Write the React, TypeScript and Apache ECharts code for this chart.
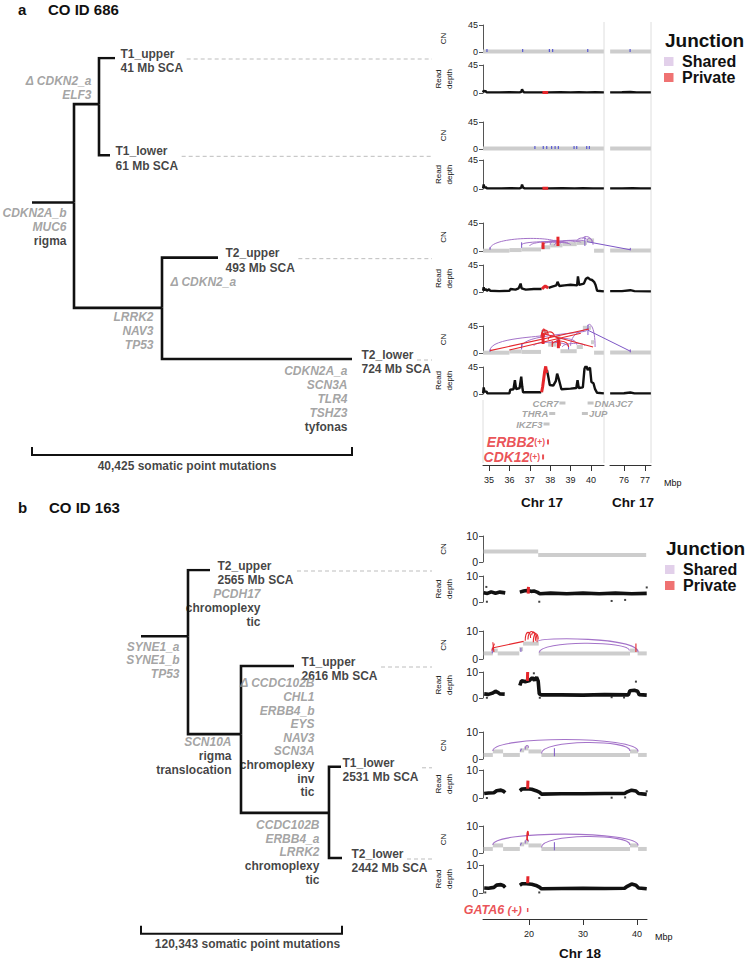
import React, { useEffect, useRef } from 'react';
import * as echarts from 'echarts';

const FONT = '"Liberation Sans", Arial, Helvetica, sans-serif';
const GRAY_TXT = '#8c8c8c';
const PURPLE = '#a473c9';
const PURPLE_DARK = '#7d56c6';
const RED = '#e5262b';
const CN_GRAY = '#cdcdcd';
const BLUE = '#5a5ad2';
const INK = '#111111';

/* ===================== panel a : CO ID 686 ===================== */
const aTitle = 'CO ID 686';
const aTotalMutations = 40425;
// [node, parent, position (somatic mutations), row]
const aTreeNodes: any[] = [
  ['rootA', null, 5306, 1.44],
  ['nT1', 'rootA', 8464, 0.46],
  ['T1_upper', 'nT1', 10485, 0],
  ['T1_lower', 'nT1', 9854, 0.97],
  ['nT2', 'rootA', 16423, 2.49],
  ['T2_upper', 'nT2', 23497, 1.99],
  ['T2_lower', 'nT2', 40425, 3],
];
const aLeafSCA = [['T1_upper', '41 Mb SCA'], ['T1_lower', '61 Mb SCA'], ['T2_upper', '493 Mb SCA'], ['T2_lower', '724 Mb SCA']];
// [node, genes (grey italic), events (black)]
const aBranchNotes: any[] = [
  ['nT1', ['Δ CDKN2_a', 'ELF3'], []],
  ['rootA', ['CDKN2A_b', 'MUC6'], ['rigma']],
  ['T2_upper', ['Δ CDKN2_a'], []],
  ['nT2', ['LRRK2', 'NAV3', 'TP53'], []],
  ['T2_lower', ['CDKN2A_a', 'SCN3A', 'TLR4', 'TSHZ3'], ['tyfonas']],
];

// chr17 copy number segments [start Mb, end Mb, CN]
const aCN_T1upper = [[34.71, 40.63, 1], [75.34, 77.28, 1]];
const aCN_T1lower = [[34.71, 40.63, 1], [75.34, 77.28, 1]];
const aCN_T2upper = [[34.71, 36.0, 0.5], [36.0, 36.6, 1.5], [36.6, 37.55, 2.5], [37.55, 38.0, 6], [38.0, 38.6, 9], [38.6, 39.3, 11], [39.3, 39.8, 13], [39.8, 40.15, 17], [40.15, 40.63, 0.5], [75.34, 77.28, 1]];
const aCN_T2lower = [[34.71, 36.0, 0.5], [36.0, 36.6, 2.5], [36.6, 37.55, 1.8], [37.55, 37.9, 35], [37.9, 38.3, 14], [38.3, 38.5, 25], [38.5, 39.3, 3], [39.3, 39.6, 10], [39.6, 40.0, 42], [40.0, 40.15, 18], [40.15, 40.63, 0.5], [75.34, 77.28, 1]];
// junction breakpoint ticks (Mb)
const aMarks_T1upper = [34.9, 36.65, 37.96, 38.12, 39.84, 76.29];
const aMarks_T1lower = [37.25, 37.66, 37.83, 38.07, 38.24, 38.4, 39.17, 39.3, 39.79, 39.92];
// shared junction arcs [x1, cn1, x2, cn2, peak cn]
const aArcsShared_T2upper = [
  [35.05, 3, 38.4, 12, 20], [36.6, 10, 38.9, 12, 15], [37.0, 8, 39.5, 14, 16], [37.65, 8, 38.35, 15, 16],
  [37.7, 12, 39.0, 10, 14], [38.0, 10, 38.4, 14, 17], [38.2, 9, 39.7, 16, 17], [38.5, 12, 39.2, 14, 17],
  [39.3, 15, 39.8, 18, 21], [39.6, 20, 40.05, 14, 23], [39.8, 16, 40.1, 10, 20],
];
const aLinesShared_T2upper = [[35.05, 2, 35.05, 6], [36.6, 5, 36.6, 14], [39.7, 8, 39.7, 22], [39.8, 15, 76.3, 2], [76.3, 1, 76.3, 5]];
const aBarsPrivate_T2upper = [[37.65, 3, 37.65, 14], [38.38, 8, 38.38, 23]];
const aArcsShared_T2lower = [
  [35.05, 4, 37.7, 30, 24], [36.6, 10, 39.8, 38, 30], [38.3, 20, 39.3, 14, 24], [39.0, 12, 39.85, 42, 35],
  [39.85, 45, 40.2, 10, 45], [37.2, 12, 38.9, 10, 18], [38.6, 10, 39.7, 12, 16],
];
const aLinesShared_T2lower = [[35.05, 2, 35.05, 6], [36.6, 6, 36.6, 16], [38.9, 6, 38.9, 12], [39.85, 30, 39.85, 47], [39.85, 38, 76.3, 3], [76.3, 1, 76.3, 6]];
const aArcsPrivate_T2lower = [[37.55, 25, 37.9, 30, 38], [37.65, 20, 38.2, 28, 35], [37.9, 22, 38.5, 12, 28], [38.1, 14, 38.9, 10, 20], [37.6, 28, 37.75, 33, 40]];
const aLinesPrivate_T2lower = [[35.05, 4, 39.9, 40], [36.0, 5, 39.5, 33], [37.6, 33, 40.1, 10], [38.1, 10, 38.1, 20]];
const aBarsPrivate_T2lower = [[37.65, 15, 37.65, 33], [38.4, 8, 38.4, 22]];
// read depth [Mb, depth]; null = gap
const aRD_T1upper: any[] = [[34.71, 1], [34.74, 4], [34.78, 2], [34.82, 3.5], [34.88, 1], [35.5, 1], [36.0, 1.2], [36.5, 1], [36.58, 2], [36.62, 6], [36.66, 3], [36.72, 1], [37.2, 1], [37.6, 1], [37.9, 1], [38.5, 1.2], [39.0, 1], [39.4, 1.4], [39.8, 1], [40.2, 1.2], [40.63, 1],
  [75.34, 1], [75.9, 1.2], [76.3, 1.6], [76.6, 1], [77.28, 1]];
const aRDprivate_T1upper = [[37.62, 1], [37.9, 1]];
const aRD_T1lower: any[] = [[34.71, 1], [34.74, 7], [34.78, 2], [34.84, 3], [34.9, 1], [35.6, 1], [36.1, 1.2], [36.5, 1], [36.58, 2], [36.62, 7], [36.67, 2], [36.75, 1], [37.3, 1], [37.6, 1], [37.9, 1], [38.6, 1.2], [39.2, 1], [39.6, 1.3], [40.1, 1], [40.63, 1],
  [75.34, 1], [75.9, 1], [76.4, 1.4], [76.8, 1], [77.28, 1]];
const aRDprivate_T1lower = [[37.62, 1], [37.9, 1]];
const aRD_T2upper: any[] = [[34.71, 2], [34.74, 8], [34.77, 3], [34.83, 5], [34.9, 2], [35.0, 4.5], [35.06, 2], [35.5, 1.5], [36.0, 2], [36.05, 5], [36.3, 4], [36.45, 6], [36.55, 14], [36.6, 6], [36.8, 4], [37.2, 5], [37.58, 5], null,
  [37.92, 7], [38.1, 9], [38.3, 11], [38.36, 17], [38.45, 10], [38.7, 11], [39.0, 12], [39.32, 11], [39.36, 26], [39.42, 12], [39.65, 14], [39.75, 22], [39.85, 24], [39.95, 21], [40.05, 20], [40.15, 17], [40.22, 12], [40.3, 2], [40.63, 1],
  [75.34, 1.5], [75.9, 1.5], [76.3, 3], [76.5, 1.5], [77.28, 1]];
const aRDprivate_T2upper = [[37.6, 5], [37.68, 8], [37.76, 10], [37.84, 8], [37.9, 7]];
const aRD_T2lower: any[] = [[34.71, 1], [34.74, 11], [34.78, 4], [34.88, 4], [34.92, 1], [35.6, 1], [36.0, 1], [36.04, 7], [36.2, 8], [36.27, 23], [36.33, 8], [36.5, 10], [36.58, 29], [36.63, 12], [36.67, 3], [37.1, 3], [37.56, 3], null,
  [37.84, 40], [37.9, 30], [37.98, 15], [38.15, 14], [38.28, 22], [38.34, 34], [38.42, 25], [38.55, 8], [39.0, 9], [39.28, 10], [39.34, 23], [39.4, 10], [39.6, 11], [39.68, 42], [39.76, 48], [39.84, 40], [39.95, 44], [40.02, 20], [40.12, 18], [40.2, 8], [40.3, 2], [40.63, 1],
  [75.34, 1], [76.0, 1.2], [76.3, 2.5], [76.5, 1], [77.28, 1]];
const aRDprivate_T2lower = [[37.58, 3], [37.63, 12], [37.68, 25], [37.73, 38], [37.78, 46], [37.83, 35]];
// chr17 genes
const aGeneNames = ['CCR7', 'THRA', 'IKZF3', 'ERBB2', 'CDK12', 'JUP', 'DNAJC7'];
const aGenePos = [38.6, 38.1, 37.82, 37.89, 37.65, 39.7, 39.98];
const aGeneRow = [0, 1, 2, 3.71, 5.14, 1, 0];
const aGeneAmplified = [false, false, false, true, true, false, false];
const aTicksLeft = [35, 36, 37, 38, 39, 40];
const aTicksRight = [76, 77];

/* ===================== panel b : CO ID 163 ===================== */
const bTitle = 'CO ID 163';
const bTotalMutations = 120343;
const bTreeNodes: any[] = [
  ['rootB', null, 28140, 0.69],
  ['T2_upper', 'rootB', 41311, 0],
  ['n2', 'rootB', 59872, 1.71],
  ['T1_upper', 'n2', 91604, 1],
  ['n3', 'n2', 112547, 2.53],
  ['T1_lower', 'n3', 119744, 2.05],
  ['T2_lower', 'n3', 120343, 3],
];
const bLeafSCA = [['T2_upper', '2565 Mb SCA'], ['T1_upper', '2616 Mb SCA'], ['T1_lower', '2531 Mb SCA'], ['T2_lower', '2442 Mb SCA']];
const bBranchNotes: any[] = [
  ['rootB', ['SYNE1_a', 'SYNE1_b', 'TP53'], []],
  ['T2_upper', ['PCDH17'], ['chromoplexy', 'tic']],
  ['n2', ['SCN10A'], ['rigma', 'translocation']],
  ['T1_upper', ['Δ CCDC102B', 'CHL1', 'ERBB4_b', 'EYS', 'NAV3', 'SCN3A'], ['chromoplexy', 'inv', 'tic']],
  ['n3', ['CCDC102B', 'ERBB4_a', 'LRRK2'], ['chromoplexy', 'tic']],
];
const bCN_T2upper = [[11.6, 21.7, 4], [21.7, 41.7, 2.7]];
const bCN_T1upper = [[11.6, 13.3, 2], [13.3, 14.2, 3], [14.2, 18.2, 2], [18.2, 18.9, 3.5], [18.9, 21.8, 5.5], [21.8, 38.7, 2], [38.7, 40.1, 3], [40.1, 41.8, 2]];
const bCN_T1lower = [[11.6, 13.3, 1.5], [13.3, 15.2, 2.8], [15.2, 18.3, 1.5], [18.3, 19.1, 3.2], [19.1, 19.9, 3.9], [19.9, 22.3, 2.8], [22.3, 38.7, 1.5], [38.7, 40.2, 2.8], [40.2, 41.8, 1.5]];
const bCN_T2lower = [[11.6, 13.3, 1.5], [13.3, 15.2, 2.8], [15.2, 18.3, 1.5], [18.3, 19.1, 3.2], [19.1, 19.9, 3.9], [19.9, 22.3, 2.8], [22.3, 38.7, 1.5], [38.7, 40.2, 2.8], [40.2, 41.8, 1.5]];
const bArcsShared_T1upper = [[21.7, 6.3, 40.2, 2.4, 7.0], [21.9, 2.3, 38.6, 3.0, 5.6]];
const bLinesShared_T1upper = [[13.2, 2, 13.2, 4], [18.5, 2.5, 18.5, 4]];
const bArcsPrivate_T1upper = [[19.3, 6.5, 20.3, 7.5, 9.5], [19.8, 7.0, 21.2, 6.5, 9.8], [20.5, 8.5, 21.5, 6.0, 9.5], [20.8, 6.0, 21.7, 7.0, 9.0]];
const bLinesPrivate_T1upper = [[13.1, 3, 13.6, 5.5], [13.3, 6, 13.5, 2.5], [13.4, 4, 19.0, 6.3], [39.8, 2.5, 39.8, 5.5]];
const bArcsShared_T1lower = [[13.3, 3, 40.2, 2.8, 7.2], [22.3, 2, 38.7, 3, 6.1], [19.3, 3.5, 19.9, 4.2, 5]];
const bLinesShared_T1lower = [[24.7, 1, 24.7, 4], [18.4, 2.8, 18.6, 3.8]];
const bArcsShared_T2lower = [[13.3, 3, 40.2, 2.8, 7.0], [22.3, 2, 38.7, 3, 6.1], [19.3, 3.5, 19.9, 4.2, 5]];
const bLinesShared_T2lower = [[24.7, 1, 24.7, 4], [18.4, 2.8, 18.6, 3.8]];
const bArcsPrivate_T2lower = [[19.6, 5, 19.9, 6.5, 8]];
const bLinesPrivate_T2lower = [[19.7, 4.8, 19.7, 7.6], [19.6, 5.2, 19.8, 4.5]];
const bRD_T2upper: any[] = [[11.6, 3.6], [12.3, 3.3], [13.0, 3.9], [13.8, 3.4], [14.6, 3.8], [15.6, 3.5], null, [18.3, 3.8], [19.0, 4.2], [19.6, 4.4], [20.4, 4.1], [21.0, 4.2], [21.6, 3.7], [22.0, 3.2], [24.0, 3.4], [27.0, 3.2], [30.0, 3.4], [33.0, 3.2], [36.0, 3.4], [39.0, 3.2], [41.8, 3.3]];
const bRDprivate_T2upper = [[19.85, 3.2], [19.9, 5.8]];
const bRDoutliers_T2upper = [[12.2, 0.1], [12.1, 5.8], [21.9, 0.1], [35.3, 0.4], [37.8, 0.8], [41.8, 5.6]];
const bRD_T1upper: any[] = [[11.7, 1.6], [12.5, 1.4], [13.3, 1.9], [13.8, 2.6], [14.2, 2.2], [14.6, 1.6], [15.5, 1.5], null, [18.3, 4.8], [18.6, 6.6], [19.3, 6.3], [20.0, 6.6], [20.6, 7.8], [21.0, 6.8], [21.4, 8.0], [21.7, 6.5], [21.9, 1.6], [22.3, 1.2], [26.0, 1.2], [30.0, 1.1], [34.0, 1.3], [38.4, 1.2], [38.7, 2.8], [39.5, 3.0], [40.1, 2.6], [40.4, 1.3], [41.8, 1.1]];
const bRDprivate_T1upper = [[19.7, 6.6], [19.75, 10]];
const bRDoutliers_T1upper = [[12.2, 0.1], [22.0, 0.1], [35.3, 0.3], [37.6, 0.2], [39.8, 6.3], [20.9, 9.5]];
const bRD_T1lower: any[] = [[11.7, 1.6], [12.5, 1.8], [13.5, 1.9], [14.0, 2.6], [14.8, 2.8], [15.3, 2.4], [15.6, 1.9], null, [18.3, 2.6], [18.7, 3.2], [19.5, 3.3], [20.5, 3.1], [21.3, 2.6], [22.0, 2.0], [22.3, 1.4], [26.0, 1.5], [30.0, 1.5], [34.0, 1.6], [37.7, 1.6], [38.2, 2.2], [39.0, 2.8], [39.8, 2.5], [40.3, 1.6], [41.8, 1.3]];
const bRDprivate_T1lower = [[19.75, 3.3], [19.8, 6.2]];
const bRDoutliers_T1lower = [[12.2, 0], [21.9, 0], [35.3, 0.1], [37.8, 0.2], [41.8, 2.4]];
const bRD_T2lower: any[] = [[11.7, 1.8], [12.5, 1.7], [13.5, 2.0], [14.0, 2.8], [14.8, 3.0], [15.3, 2.6], [15.6, 2.0], null, [18.3, 2.8], [18.7, 3.3], [19.5, 3.3], [20.5, 3.1], [21.3, 2.7], [22.0, 2.0], [22.3, 1.5], [26.0, 1.6], [30.0, 1.7], [34.0, 1.6], [37.7, 1.7], [38.2, 2.4], [39.0, 3.2], [39.8, 2.8], [40.3, 1.8], [41.8, 1.5]];
const bRDprivate_T2lower = [[19.75, 3.5], [19.8, 6.0]];
const bRDoutliers_T2lower = [[11.9, 0.2], [21.9, 0.2]];
const bGeneNames = ['GATA6'];
const bGenePos = [19.75];
const bTicks = [20, 30, 40];

/* ===================== layout ===================== */
// tree grids: rows 0..4 (row 3 = last leaf, row ~3.9 = bracket)
const aTreeRect = { left: 32, top: 58, width: 320, height: 301 * 4 / 3 };
const bTreeRect = { left: 141, top: 570, width: 201, height: 288 * 4 / 3 };
const aLeafGap = [5, 5, 7, 9];
const bLeafGap = [7, 7, 1, 9];
const aNoteLayout = [
  { at: 'end', dx: -7, dy: -2, align: 'right', va: 'bottom' },
  { at: 'end', dx: -7, dy: 4, align: 'right', va: 'top' },
  { at: 'start', dx: 9, dy: 18, align: 'left', va: 'top' },
  { at: 'end', dx: -8, dy: 3, align: 'right', va: 'top' },
  { at: 'end', dx: -4, dy: 5, align: 'right', va: 'top' },
];
const bNoteLayout = [
  { at: 'end', dx: -8, dy: 4, align: 'right', va: 'top' },
  { at: 'end', dx: 51, dy: 18, align: 'right', va: 'top' },
  { at: 'end', dx: -9, dy: 2, align: 'right', va: 'top' },
  { at: 'end', dx: 21, dy: 11, align: 'right', va: 'top' },
  { at: 'end', dx: -9, dy: 6, align: 'right', va: 'top' },
];
const aBracket = { row: 3.957, tick: 0.08, dx: -5 };
const bBracket = { row: 3.79, tick: 0.083, dx: 6 };
const aXL = [34.706, 40.637], aXR = [75.333, 77.286];
const aLeftPx = [483, 604], aRightPx = [610, 651];
const bX = [11.48, 41.85], bPx = [483, 647];
const aTrackLayout = [
  { cn: [25, 27], rd: [65, 28] },
  { cn: [122, 27], rd: [160, 29] },
  { cn: [223, 28], rd: [265, 27] },
  { cn: [326, 27], rd: [367, 27] },
];
const bTrackLayout = [
  { cn: [536, 26], rd: [576, 26] },
  { cn: [631, 28], rd: [672, 26] },
  { cn: [732, 27], rd: [770, 28] },
  { cn: [826, 27], rd: [865, 28] },
];
const DASH_END = 432;

function buildOption() {
  const grid: any[] = [], xAxis: any[] = [], yAxis: any[] = [], series: any[] = [];
  const leaves: any[] = [];
  const addGrid = (r: any, xa: any, ya: any) => {
    const i = grid.length;
    grid.push({ left: r.left, top: r.top, width: r.width, height: r.height, containLabel: false });
    xAxis.push({ type: 'value', gridIndex: i, show: false, splitLine: { show: false }, ...xa });
    yAxis.push({ type: 'value', gridIndex: i, show: false, splitLine: { show: false }, ...ya });
    return i;
  };
  const trackY = (max: number, fs: number) => ({
    show: true, min: 0, max, interval: max,
    axisLine: { show: true, lineStyle: { color: '#555', width: 1 } },
    axisTick: { show: true, length: 4, lineStyle: { color: '#555' } },
    axisLabel: { show: true, fontSize: fs, color: '#222', margin: 5, fontFamily: FONT },
  });
  const seg = (gi: number, data: any[], color: string, width: number, z: number) => {
    if (!data.length) return;
    series.push({
      type: 'custom', coordinateSystem: 'cartesian2d', xAxisIndex: gi, yAxisIndex: gi, silent: true, z, clip: false, data,
      renderItem: (_p: any, api: any) => {
        const a = api.coord([api.value(0), api.value(1)]);
        const b = api.coord([api.value(2), api.value(3)]);
        return { type: 'line', shape: { x1: a[0], y1: a[1], x2: b[0], y2: b[1] }, style: { stroke: color, lineWidth: width, fill: 'none' } };
      },
    });
  };
  const arc = (gi: number, data: any[], color: string, width: number, z: number) => {
    if (!data.length) return;
    series.push({
      type: 'custom', coordinateSystem: 'cartesian2d', xAxisIndex: gi, yAxisIndex: gi, silent: true, z, clip: false, data,
      renderItem: (_p: any, api: any) => {
        const x1 = api.value(0), y1 = api.value(1), x2 = api.value(2), y2 = api.value(3), pk = api.value(4);
        const h = (pk - (y1 + y2) / 8) / 0.75;
        const a = api.coord([x1, y1]), b = api.coord([x2, y2]);
        const c1 = api.coord([x1, h]), c2 = api.coord([x2, h]);
        return {
          type: 'bezierCurve',
          shape: { x1: a[0], y1: a[1], x2: b[0], y2: b[1], cpx1: c1[0], cpy1: c1[1], cpx2: c2[0], cpy2: c2[1] },
          style: { stroke: color, lineWidth: width, fill: 'none' },
        };
      },
    });
  };
  const poly = (gi: number, pts: any[], color: string, width: number, z: number) => {
    if (!pts.length) return;
    series.push({
      type: 'line', xAxisIndex: gi, yAxisIndex: gi, silent: true, z, symbol: 'none', showSymbol: false, connectNulls: false,
      lineStyle: { color, width }, data: pts.map((p: any) => (p ? p : ['-', '-'])),
    });
  };
  const dots = (gi: number, pts: any[], color: string, size: number, z: number) => {
    if (!pts.length) return;
    series.push({ type: 'scatter', xAxisIndex: gi, yAxisIndex: gi, silent: true, z, symbol: 'rect', symbolSize: size, itemStyle: { color }, data: pts });
  };

  /* ---------- trees ---------- */
  const addTree = (nodes: any[], sca: any[], notes: any[], rect: any, gaps: number[], noteLayout: any[], total: number, bracket: any, lh: number) => {
    const g = addGrid(rect, { min: 0, max: total }, { min: 0, max: 4, inverse: true });
    const byId: any = {};
    nodes.forEach((n) => (byId[n[0]] = n));
    const branches = nodes.map((n) => {
      if (!n[1]) return [[0, n[3]], [n[2], n[3]]];
      const p = byId[n[1]];
      return [[p[2], p[3]], [p[2], n[3]], [n[2], n[3]]];
    });
    series.push({
      type: 'lines', coordinateSystem: 'cartesian2d', xAxisIndex: g, yAxisIndex: g, polyline: true, silent: true, z: 5,
      lineStyle: { color: INK, width: 2.6, opacity: 1 }, data: branches.map((c) => ({ coords: c })),
    });
    series.push({
      type: 'lines', coordinateSystem: 'cartesian2d', xAxisIndex: g, yAxisIndex: g, polyline: true, silent: true, z: 5,
      lineStyle: { color: INK, width: 2, opacity: 1 },
      data: [{ coords: [[0, bracket.row - bracket.tick], [0, bracket.row], [total, bracket.row], [total, bracket.row - bracket.tick]] }],
    });
    const labelData: any[] = [];
    sca.forEach((s: any, i: number) => {
      const n = byId[s[0]];
      leaves.push({ g, x: n[2], y: n[3], gap: gaps[i], lines: [s[0], s[1]] });
      labelData.push({
        value: [n[2], n[3]],
        label: {
          show: true, position: 'right', distance: gaps[i], offset: [0, 3], formatter: `${s[0]}\n${s[1]}`,
          fontSize: 12, fontWeight: 'bold', color: INK, lineHeight: 14.5, fontFamily: FONT,
        },
      });
    });
    const rich = (size: number) => ({
      g: { color: GRAY_TXT, fontStyle: 'italic', fontWeight: 'bold', fontSize: size, lineHeight: lh, fontFamily: FONT },
      k: { color: INK, fontWeight: 'bold', fontSize: size, lineHeight: lh, fontFamily: FONT },
    });
    notes.forEach((nt: any, i: number) => {
      const L = noteLayout[i];
      const n = byId[nt[0]];
      const par = n[1] ? byId[n[1]] : null;
      const x = L.at === 'start' ? (par ? par[2] : 0) : n[2];
      const text = [...nt[1].map((s: string) => `{g|${s}}`), ...nt[2].map((s: string) => `{k|${s}}`)].join('\n');
      labelData.push({
        value: [x, n[3]],
        label: { show: true, position: [L.dx, L.dy], align: L.align, verticalAlign: L.va, formatter: text, rich: rich(12) },
      });
    });
    labelData.push({
      value: [total / 2, bracket.row],
      label: {
        show: true, position: 'bottom', distance: 4, offset: [bracket.dx, 0], formatter: `${total.toLocaleString('en-US')} somatic point mutations`,
        fontSize: 12, fontWeight: 'bold', color: INK, fontFamily: FONT,
      },
    });
    series.push({ type: 'scatter', xAxisIndex: g, yAxisIndex: g, symbolSize: 1, silent: true, z: 6, clip: false, itemStyle: { color: 'rgba(0,0,0,0)' }, data: labelData });
  };
  addTree(aTreeNodes, aLeafSCA, aBranchNotes, aTreeRect, aLeafGap, aNoteLayout, aTotalMutations, aBracket, 14);
  addTree(bTreeNodes, bLeafSCA, bBranchNotes, bTreeRect, bLeafGap, bNoteLayout, bTotalMutations, bBracket, 13.6);

  /* ---------- panel a tracks ---------- */
  const SPLIT = 60;
  const pxL = (aLeftPx[1] - aLeftPx[0]) / (aXL[1] - aXL[0]);
  const pxR = (aRightPx[1] - aRightPx[0]) / (aXR[1] - aXR[0]);
  const toLeft = (x: number) => (x < SPLIT ? x : aXL[0] + (aRightPx[0] + (x - aXR[0]) * pxR - aLeftPx[0]) / pxL);
  const split = (items: any[]) => {
    const L: any[] = [], R: any[] = [];
    items.forEach((it) => {
      if (it[0] > SPLIT && it[2] > SPLIT) R.push(it);
      else if (it[0] < SPLIT && it[2] < SPLIT) L.push(it);
      else { const c = it.slice(); c[0] = toLeft(c[0]); c[2] = toLeft(c[2]); L.push(c); }
    });
    return [L, R];
  };
  const aSamples = [
    { cn: aCN_T1upper, marks: aMarks_T1upper, arcsS: [], linesS: [], arcsP: [], linesP: [], barsP: [], rd: aRD_T1upper, rdP: aRDprivate_T1upper },
    { cn: aCN_T1lower, marks: aMarks_T1lower, arcsS: [], linesS: [], arcsP: [], linesP: [], barsP: [], rd: aRD_T1lower, rdP: aRDprivate_T1lower },
    { cn: aCN_T2upper, marks: [], arcsS: aArcsShared_T2upper, linesS: aLinesShared_T2upper, arcsP: [], linesP: [], barsP: aBarsPrivate_T2upper, rd: aRD_T2upper, rdP: aRDprivate_T2upper },
    { cn: aCN_T2lower, marks: [], arcsS: aArcsShared_T2lower, linesS: aLinesShared_T2lower, arcsP: aArcsPrivate_T2lower, linesP: aLinesPrivate_T2lower, barsP: aBarsPrivate_T2lower, rd: aRD_T2lower, rdP: aRDprivate_T2lower },
  ];
  const aW = aLeftPx[1] - aLeftPx[0], aWR = aRightPx[1] - aRightPx[0];
  aSamples.forEach((s: any, i: number) => {
    const T = aTrackLayout[i];
    const cnL = addGrid({ left: aLeftPx[0], top: T.cn[0], width: aW, height: T.cn[1] }, { min: aXL[0], max: aXL[1] }, trackY(45, 9));
    const cnR = addGrid({ left: aRightPx[0], top: T.cn[0], width: aWR, height: T.cn[1] }, { min: aXR[0], max: aXR[1] }, { min: 0, max: 45 });
    const rdL = addGrid({ left: aLeftPx[0], top: T.rd[0], width: aW, height: T.rd[1] }, { min: aXL[0], max: aXL[1] }, trackY(45, 9));
    const rdR = addGrid({ left: aRightPx[0], top: T.rd[0], width: aWR, height: T.rd[1] }, { min: aXR[0], max: aXR[1] }, { min: 0, max: 45 });
    const [gL, gR] = split(s.cn.map((c: number[]) => [c[0], c[2], c[1], c[2]]));
    seg(cnL, gL, CN_GRAY, 4, 2); seg(cnR, gR, CN_GRAY, 4, 2);
    const [mL, mR] = split(s.marks.map((p: number) => [p, 0, p, 5]));
    seg(cnL, mL, BLUE, 1.2, 3); seg(cnR, mR, BLUE, 1.2, 3);
    const [asL, asR] = split(s.arcsS);
    arc(cnL, asL, PURPLE, 1, 3); arc(cnR, asR, PURPLE, 1, 3);
    const [lsL, lsR] = split(s.linesS);
    seg(cnL, lsL, PURPLE_DARK, 1, 3); seg(cnR, lsR, PURPLE_DARK, 1, 3);
    const [apL] = split(s.arcsP);
    arc(cnL, apL, RED, 1.1, 4);
    const [lpL] = split(s.linesP);
    seg(cnL, lpL, RED, 1.1, 4);
    const [bpL] = split(s.barsP);
    seg(cnL, bpL, RED, 3, 4);
    poly(rdL, s.rd.filter((p: any) => !p || p[0] < SPLIT), INK, 2.4, 3);
    poly(rdR, s.rd.filter((p: any) => p && p[0] > SPLIT), INK, 2.4, 3);
    poly(rdL, s.rdP, RED, 3, 4);
  });
  // gene annotations chr17 (rows 10.5 px apart)
  const aGeneGrid = addGrid({ left: aLeftPx[0], top: 403, width: aW, height: 63 }, { min: aXL[0], max: aXL[1] }, { min: 0, max: 6, inverse: true });
  series.push({
    type: 'scatter', xAxisIndex: aGeneGrid, yAxisIndex: aGeneGrid, silent: true, z: 5, symbol: 'rect',
    data: aGeneNames.map((name, i) => {
      const amp = aGeneAmplified[i];
      const right = aGenePos[i] > 39.5;
      return {
        value: [aGenePos[i], aGeneRow[i]],
        symbolSize: amp ? [2, 5] : [6, 3],
        itemStyle: { color: amp ? RED : '#b5b5b5' },
        label: {
          show: true, position: right ? 'right' : 'left', distance: amp ? 2 : 1,
          formatter: amp ? `{n|${name}}{s|(+)}` : `{m|${name}}`,
          rich: {
            n: { fontSize: 14, fontWeight: 'bold', fontStyle: 'italic', color: RED, fontFamily: FONT, lineHeight: 14 },
            s: { fontSize: 8.5, fontWeight: 'bold', color: RED, fontFamily: FONT, lineHeight: 14 },
            m: { fontSize: 9.5, fontWeight: 'bold', fontStyle: 'italic', color: GRAY_TXT, fontFamily: FONT, lineHeight: 9 },
          },
        },
      };
    }),
  });
  const axisX = (min: number, max: number, ticks: number[]) => ({
    show: true, min, max,
    axisLine: { show: true, lineStyle: { color: '#333', width: 1 } },
    axisTick: { show: true, length: 6, customValues: ticks, lineStyle: { color: '#333' } },
    axisLabel: { show: true, customValues: ticks, fontSize: 9, color: '#222', margin: 10, fontFamily: FONT },
  });
  addGrid({ left: aLeftPx[0], top: 445, width: aW, height: 20 }, axisX(aXL[0], aXL[1], aTicksLeft), { min: 0, max: 1 });
  addGrid({ left: aRightPx[0], top: 445, width: aWR, height: 20 }, axisX(aXR[0], aXR[1], aTicksRight), { min: 0, max: 1 });

  /* ---------- panel b tracks ---------- */
  const bSamples = [
    { cn: bCN_T2upper, arcsS: [], linesS: [], arcsP: [], linesP: [], rd: bRD_T2upper, rdP: bRDprivate_T2upper, out: bRDoutliers_T2upper },
    { cn: bCN_T1upper, arcsS: bArcsShared_T1upper, linesS: bLinesShared_T1upper, arcsP: bArcsPrivate_T1upper, linesP: bLinesPrivate_T1upper, rd: bRD_T1upper, rdP: bRDprivate_T1upper, out: bRDoutliers_T1upper },
    { cn: bCN_T1lower, arcsS: bArcsShared_T1lower, linesS: bLinesShared_T1lower, arcsP: [], linesP: [], rd: bRD_T1lower, rdP: bRDprivate_T1lower, out: bRDoutliers_T1lower },
    { cn: bCN_T2lower, arcsS: bArcsShared_T2lower, linesS: bLinesShared_T2lower, arcsP: bArcsPrivate_T2lower, linesP: bLinesPrivate_T2lower, rd: bRD_T2lower, rdP: bRDprivate_T2lower, out: bRDoutliers_T2lower },
  ];
  const bW = bPx[1] - bPx[0];
  bSamples.forEach((s: any, i: number) => {
    const T = bTrackLayout[i];
    const cn = addGrid({ left: bPx[0], top: T.cn[0], width: bW, height: T.cn[1] }, { min: bX[0], max: bX[1] }, trackY(10, 10.5));
    const rd = addGrid({ left: bPx[0], top: T.rd[0], width: bW, height: T.rd[1] }, { min: bX[0], max: bX[1] }, trackY(10, 10.5));
    seg(cn, s.cn.map((c: number[]) => [c[0], c[2], c[1], c[2]]), CN_GRAY, 4, 2);
    arc(cn, s.arcsS, PURPLE, 1.1, 3);
    seg(cn, s.linesS, PURPLE_DARK, 1, 3);
    arc(cn, s.arcsP, RED, 1.1, 4);
    seg(cn, s.linesP, RED, 1.1, 4);
    poly(rd, s.rd, INK, 3.6, 3);
    poly(rd, s.rdP, RED, 3, 4);
    dots(rd, s.out, INK, 2, 3);
  });
  const bGeneGrid = addGrid({ left: bPx[0], top: 905, width: bW, height: 10 }, { min: bX[0], max: bX[1] }, { min: 0, max: 1, inverse: true });
  series.push({
    type: 'scatter', xAxisIndex: bGeneGrid, yAxisIndex: bGeneGrid, silent: true, z: 5, symbol: 'rect',
    data: bGeneNames.map((name, i) => ({
      value: [bGenePos[i], 0.5], symbolSize: [1.5, 4], itemStyle: { color: RED },
      label: {
        show: true, position: 'left', distance: 5, formatter: `{n|${name}} {s|(+)}`,
        rich: {
          n: { fontSize: 12.5, fontWeight: 'bold', fontStyle: 'italic', color: RED, fontFamily: FONT },
          s: { fontSize: 11.5, fontWeight: 'bold', fontStyle: 'italic', color: RED, fontFamily: FONT },
        },
      },
    })),
  });
  addGrid({ left: bPx[0], top: 899, width: bW, height: 20 }, axisX(bX[0], bX[1], bTicks), { min: 0, max: 1 });

  return { option: { animation: false, backgroundColor: '#ffffff', grid, xAxis, yAxis, series }, leaves };
}

function txt(x: number, y: number, text: string, o: any = {}) {
  return {
    type: 'text', x, y, silent: true, rotation: o.rotation || 0, z: 10,
    style: {
      text, fill: o.fill || INK, fontSize: o.size || 12, fontWeight: o.weight || 'normal', fontStyle: o.style || 'normal',
      fontFamily: FONT, align: o.align || 'left', textAlign: o.align || 'left', verticalAlign: 'middle', textVerticalAlign: 'middle',
      lineHeight: o.lh || undefined,
    },
  };
}

function buildGraphics(chart: any, leaves: any[]) {
  const g: any[] = [];
  // titles
  g.push(txt(18, 9, 'a', { size: 15, weight: 'bold' }));
  g.push(txt(48, 9, aTitle, { size: 15, weight: 'bold' }));
  g.push(txt(18, 507, 'b', { size: 15, weight: 'bold' }));
  g.push(txt(49, 507, bTitle, { size: 15, weight: 'bold' }));
  // legends
  const legend = (x: number, y: number) => {
    g.push(txt(x + 1, y, 'Junction', { size: 19, weight: 'bold', lh: 17 }));
    g.push({ type: 'rect', shape: { x, y: y + 17, width: 9.5, height: 9 }, style: { fill: '#e2d0ea' }, silent: true });
    g.push(txt(x + 18, y + 21, 'Shared', { size: 16, weight: 'bold', lh: 14 }));
    g.push({ type: 'rect', shape: { x, y: y + 33, width: 9.5, height: 9 }, style: { fill: '#ef7272' }, silent: true });
    g.push(txt(x + 18, y + 37, 'Private', { size: 16, weight: 'bold', lh: 14 }));
  };
  legend(664, 40);
  legend(665, 548);
  // track axis titles
  const titles = (layout: any[]) => layout.forEach((T: any) => {
    g.push(txt(443.5, T.cn[0] + T.cn[1] / 2, 'CN', { size: 8, align: 'center', rotation: Math.PI / 2 }));
    g.push(txt(444, T.rd[0] + T.rd[1] / 2, 'Read\ndepth', { size: 8, align: 'center', rotation: Math.PI / 2, lh: 11 }));
  });
  titles(aTrackLayout);
  titles(bTrackLayout);
  // light frame lines of panel a
  [[aLeftPx[1], 22, 463], [aRightPx[1], 22, 463], [aLeftPx[0], 400, 463]].forEach((l) => {
    g.push({ type: 'line', shape: { x1: l[0], y1: l[1], x2: l[0], y2: l[2] }, style: { stroke: '#dedede', lineWidth: 1 }, silent: true, z: 0 });
  });
  g.push(txt(664, 483, 'Mbp', { size: 9 }));
  g.push(txt(542, 502, 'Chr 17', { size: 13.5, weight: 'bold', align: 'center' }));
  g.push(txt(633, 502, 'Chr 17', { size: 13.5, weight: 'bold', align: 'center' }));
  g.push(txt(655, 937, 'Mbp', { size: 9 }));
  g.push(txt(580, 953, 'Chr 18', { size: 13.5, weight: 'bold', align: 'center' }));
  // dashed connectors from tree tips to tracks
  const ctx = document.createElement('canvas').getContext('2d') as any;
  ctx.font = `bold 12px ${FONT}`;
  leaves.forEach((l) => {
    const p = chart.convertToPixel({ xAxisIndex: l.g, yAxisIndex: l.g }, [l.x, l.y]);
    const w0 = ctx.measureText(l.lines[0]).width, w1 = ctx.measureText(l.lines[1]).width;
    let start = p[0] + l.gap + Math.max(w0, w1) + 4;
    if (start > DASH_END - 8) start = p[0] + l.gap + w0 + 4;
    if (start < DASH_END) {
      g.push({ type: 'line', shape: { x1: start, y1: p[1] + 1, x2: DASH_END, y2: p[1] + 1 }, style: { stroke: '#bdbdbd', lineWidth: 1, lineDash: [4, 3] }, silent: true });
    }
  });
  return g;
}

export default function App() {
  const ref = useRef<HTMLDivElement>(null);
  useEffect(() => {
    if (!ref.current) return;
    const chart = echarts.init(ref.current, null, { renderer: 'svg' });
    const { option, leaves } = buildOption();
    chart.setOption(option);
    chart.setOption({ graphic: buildGraphics(chart, leaves) });
    return () => chart.dispose();
  }, []);
  return <div ref={ref} style={{ position: 'absolute', left: 0, top: 0, width: 747, height: 960, background: '#fff' }} />;
}
